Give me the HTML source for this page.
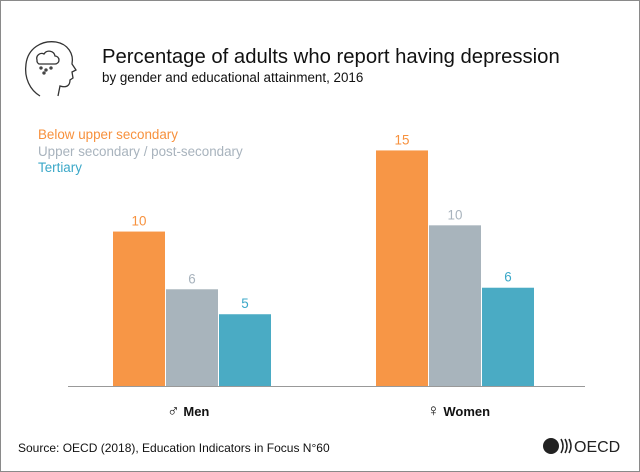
<!DOCTYPE html>
<html><head><meta charset="utf-8"><style>
html,body{margin:0;padding:0;background:#fff}
svg{display:block;font-family:"Liberation Sans",Arial,sans-serif}
</style></head><body>
<svg width="640" height="472">
<rect x="0.5" y="0.5" width="639" height="471" fill="#fff" stroke="#8a8a8a"/>
<g fill="none" stroke="#333" stroke-width="1.3">
<path d="M40 96 C30 90 24 78 26 64 C28 48 42 40 56 42 C68 44 74 54 72 64 L76 70 L72 72 L73 78 L70 80 C70 86 66 88 60 86 L58 96"/>
<path d="M37 60 a5 5 0 0 1 7 -6 a6 6 0 0 1 11 2 a4 4 0 0 1 0 8 h-16 a4 4 0 0 1 -2 -4z"/>
<circle cx="41" cy="68" r="1" /><circle cx="46" cy="70" r="1"/><circle cx="51" cy="68" r="1"/><circle cx="44" cy="73" r="1"/>
</g>
<text x="102" y="63" font-size="20.3" fill="#111">Percentage of adults who report having depression</text>
<text x="102" y="82" font-size="13.4" fill="#111">by gender and educational attainment, 2016</text>
<g font-size="13.4">
<text x="38" y="139" fill="#f7913d">Below upper secondary</text>
<text x="38" y="156" fill="#a8b3bd">Upper secondary / post-secondary</text>
<text x="38" y="172" fill="#3ba8c8">Tertiary</text>
</g>
<g id="bars"></g>
<line x1="68" y1="386.5" x2="585" y2="386.5" stroke="#999"/>
<g font-size="13" font-weight="bold" fill="#111">
<text x="167" y="416"><tspan font-size="17">♂</tspan> Men</text>
<text x="427" y="416"><tspan font-size="17">♀</tspan> Women</text>
</g>
<text x="18" y="452" font-size="12" fill="#111">Source: OECD (2018), Education Indicators in Focus N°60</text>
<g>
<circle cx="551" cy="446" r="8" fill="#222"/>
<path d="M561 439 q4 7 0 14 M565 439 q4 7 0 14 M569 439 q4 7 0 14" stroke="#222" stroke-width="1.5" fill="none"/>
<text x="574" y="452" font-size="16" fill="#222">OECD</text>
</g>
</svg>
<script>
const categories=["Men","Women"];
const seriesNames=["Below upper secondary","Upper secondary / post-secondary","Tertiary"];
const below=[9.9,15.1];
const upper=[6.2,10.3];
const tertiary=[4.6,6.3];
const labels=[[10,15],[6,10],[5,6]];
const series=[below,upper,tertiary];
const colors=["#f79646","#a8b4bc","#4aabc4"];
const labelColors=["#f7913d","#a8b3bd","#3ba8c8"];
const base=386,scale=15.6;
const y=v=>base-v*scale;
const groupX=[113,376],bw=52,step=53;
const g=document.getElementById('bars');
const NS="http://www.w3.org/2000/svg";
series.forEach((s,si)=>{s.forEach((v,ci)=>{
 const r=document.createElementNS(NS,'rect');
 const x=groupX[ci]+si*step;
 r.setAttribute('x',x);r.setAttribute('y',y(v));r.setAttribute('width',bw);r.setAttribute('height',base-y(v));r.setAttribute('fill',colors[si]);
 
 
 g.appendChild(r);
 const t=document.createElementNS(NS,'text');
 t.setAttribute('x',x+bw/2);t.setAttribute('y',y(v)-6);t.setAttribute('text-anchor','middle');t.setAttribute('font-size','13.4');t.setAttribute('fill',labelColors[si]);
 t.textContent=labels[si][ci];
 
 
 g.appendChild(t);
});});
</script>
</body></html>
